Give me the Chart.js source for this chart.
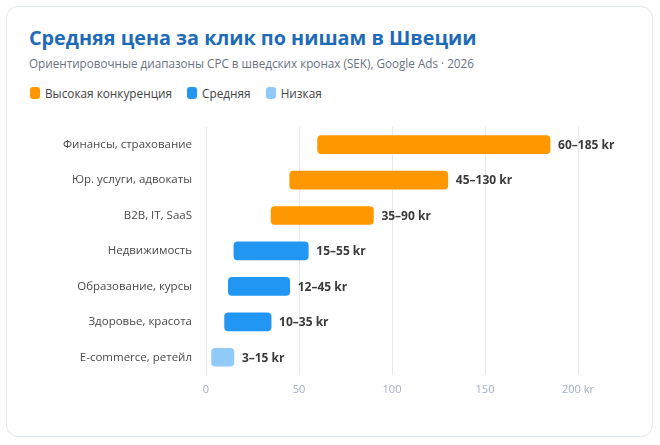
<!DOCTYPE html>
<html><head><meta charset="utf-8">
<script src="https://cdn.jsdelivr.net/npm/chart.js@4.4.1/dist/chart.umd.min.js"></script>
<style>
html,body{margin:0;padding:0;background:#fff;width:660px;height:445px;overflow:hidden;font-family:"Open Sans",sans-serif;}
.card{position:absolute;left:6px;top:6px;width:645px;height:429px;border:1px solid #e2e8f0;border-radius:12px;background:#fff;}
.title{position:absolute;left:29px;top:24px;font-size:19.8px;font-weight:700;color:#1e6bb8;white-space:nowrap;}
.sub{position:absolute;left:29px;top:55px;font-size:11.7px;color:#6b7280;white-space:nowrap;}
.legend{position:absolute;left:30px;top:85px;font-size:11.8px;color:#444;display:flex;align-items:center;white-space:nowrap;}
.legend .it{display:flex;align-items:center;margin-right:15px;}
.legend .sw{width:10px;height:12px;border-radius:3px;margin-right:5px;}
#wrap{position:absolute;left:0;top:106px;width:660px;height:299px;}
</style></head>
<body>
<div class="card"></div>
<div class="title">Средняя цена за клик по нишам в Швеции</div>
<div class="sub">Ориентировочные диапазоны CPC в шведских кронах (SEK), Google Ads · 2026</div>
<div class="legend" id="legend"></div>
<div id="wrap"><canvas id="c" width="660" height="299"></canvas></div>
<script>
const categories = ["Финансы, страхование","Юр. услуги, адвокаты","B2B, IT, SaaS","Недвижимость","Образование, курсы","Здоровье, красота","E-commerce, ретейл"];
const lowValues = [60,45,35,15,12,10,3];
const highValues = [185,130,90,55,45,35,15];
const competition = ["high","high","high","mid","mid","mid","low"];
const legendLabels = {high:"Высокая конкуренция", mid:"Средняя", low:"Низкая"};
const xTicks = [0,50,100,150,200];
const colors = {high:"#ff9800", mid:"#2196f3", low:"#90caf9"};

const leg = document.getElementById('legend');
Object.keys(legendLabels).forEach(k=>{
  const it=document.createElement('div');it.className='it';
  it.innerHTML='<span class="sw" style="background:'+colors[k]+'"></span>'+legendLabels[k];
  leg.appendChild(it);
});

const labelPlugin = {
  id:'rangeLabels',
  afterDatasetsDraw(chart){
    const ctx=chart.ctx;const meta=chart.getDatasetMeta(0);
    ctx.save();
    ctx.font='bold 12px "Open Sans", sans-serif';
    ctx.fillStyle='#3a3a3a';ctx.textBaseline='middle';ctx.textAlign='left';
    meta.data.forEach((bar,i)=>{
      ctx.fillText(lowValues[i]+'–'+highValues[i]+' kr', bar.x+8, bar.y+1);
    });
    ctx.restore();
  }
};

new Chart(document.getElementById('c'),{
  type:'bar',
  data:{labels:categories,datasets:[{
    data:categories.map((c,i)=>[lowValues[i],highValues[i]]),
    backgroundColor:competition.map(k=>colors[k]),
    borderRadius:4,borderSkipped:false,
    barThickness:18
  }]},
  options:{
    indexAxis:'y',responsive:false,animation:false,
    layout:{padding:{top:0,right:82,left:0,bottom:0}},
    plugins:{legend:{display:false},tooltip:{enabled:false}},
    scales:{
      x:{min:0,max:200,
        afterBuildTicks(s){s.ticks=xTicks.map(v=>({value:v}));},
        afterFit(s){s.height=30;},
        grid:{color:'#e6eaf0',drawTicks:false},
        border:{display:false},
        ticks:{padding:8,color:'#a0aec0',font:{size:11,family:'"Open Sans", sans-serif'},
          callback:v=>v===200?'200 kr':String(v)}
      },
      y:{
        afterFit(s){s.width=206;},
        grid:{display:false,drawTicks:false},
        border:{display:false},
        ticks:{padding:14,color:'#4a4a4a',font:{size:11.5,family:'"Open Sans", sans-serif'}}
      }
    }
  },
  plugins:[labelPlugin]
});
</script>
</body></html>
